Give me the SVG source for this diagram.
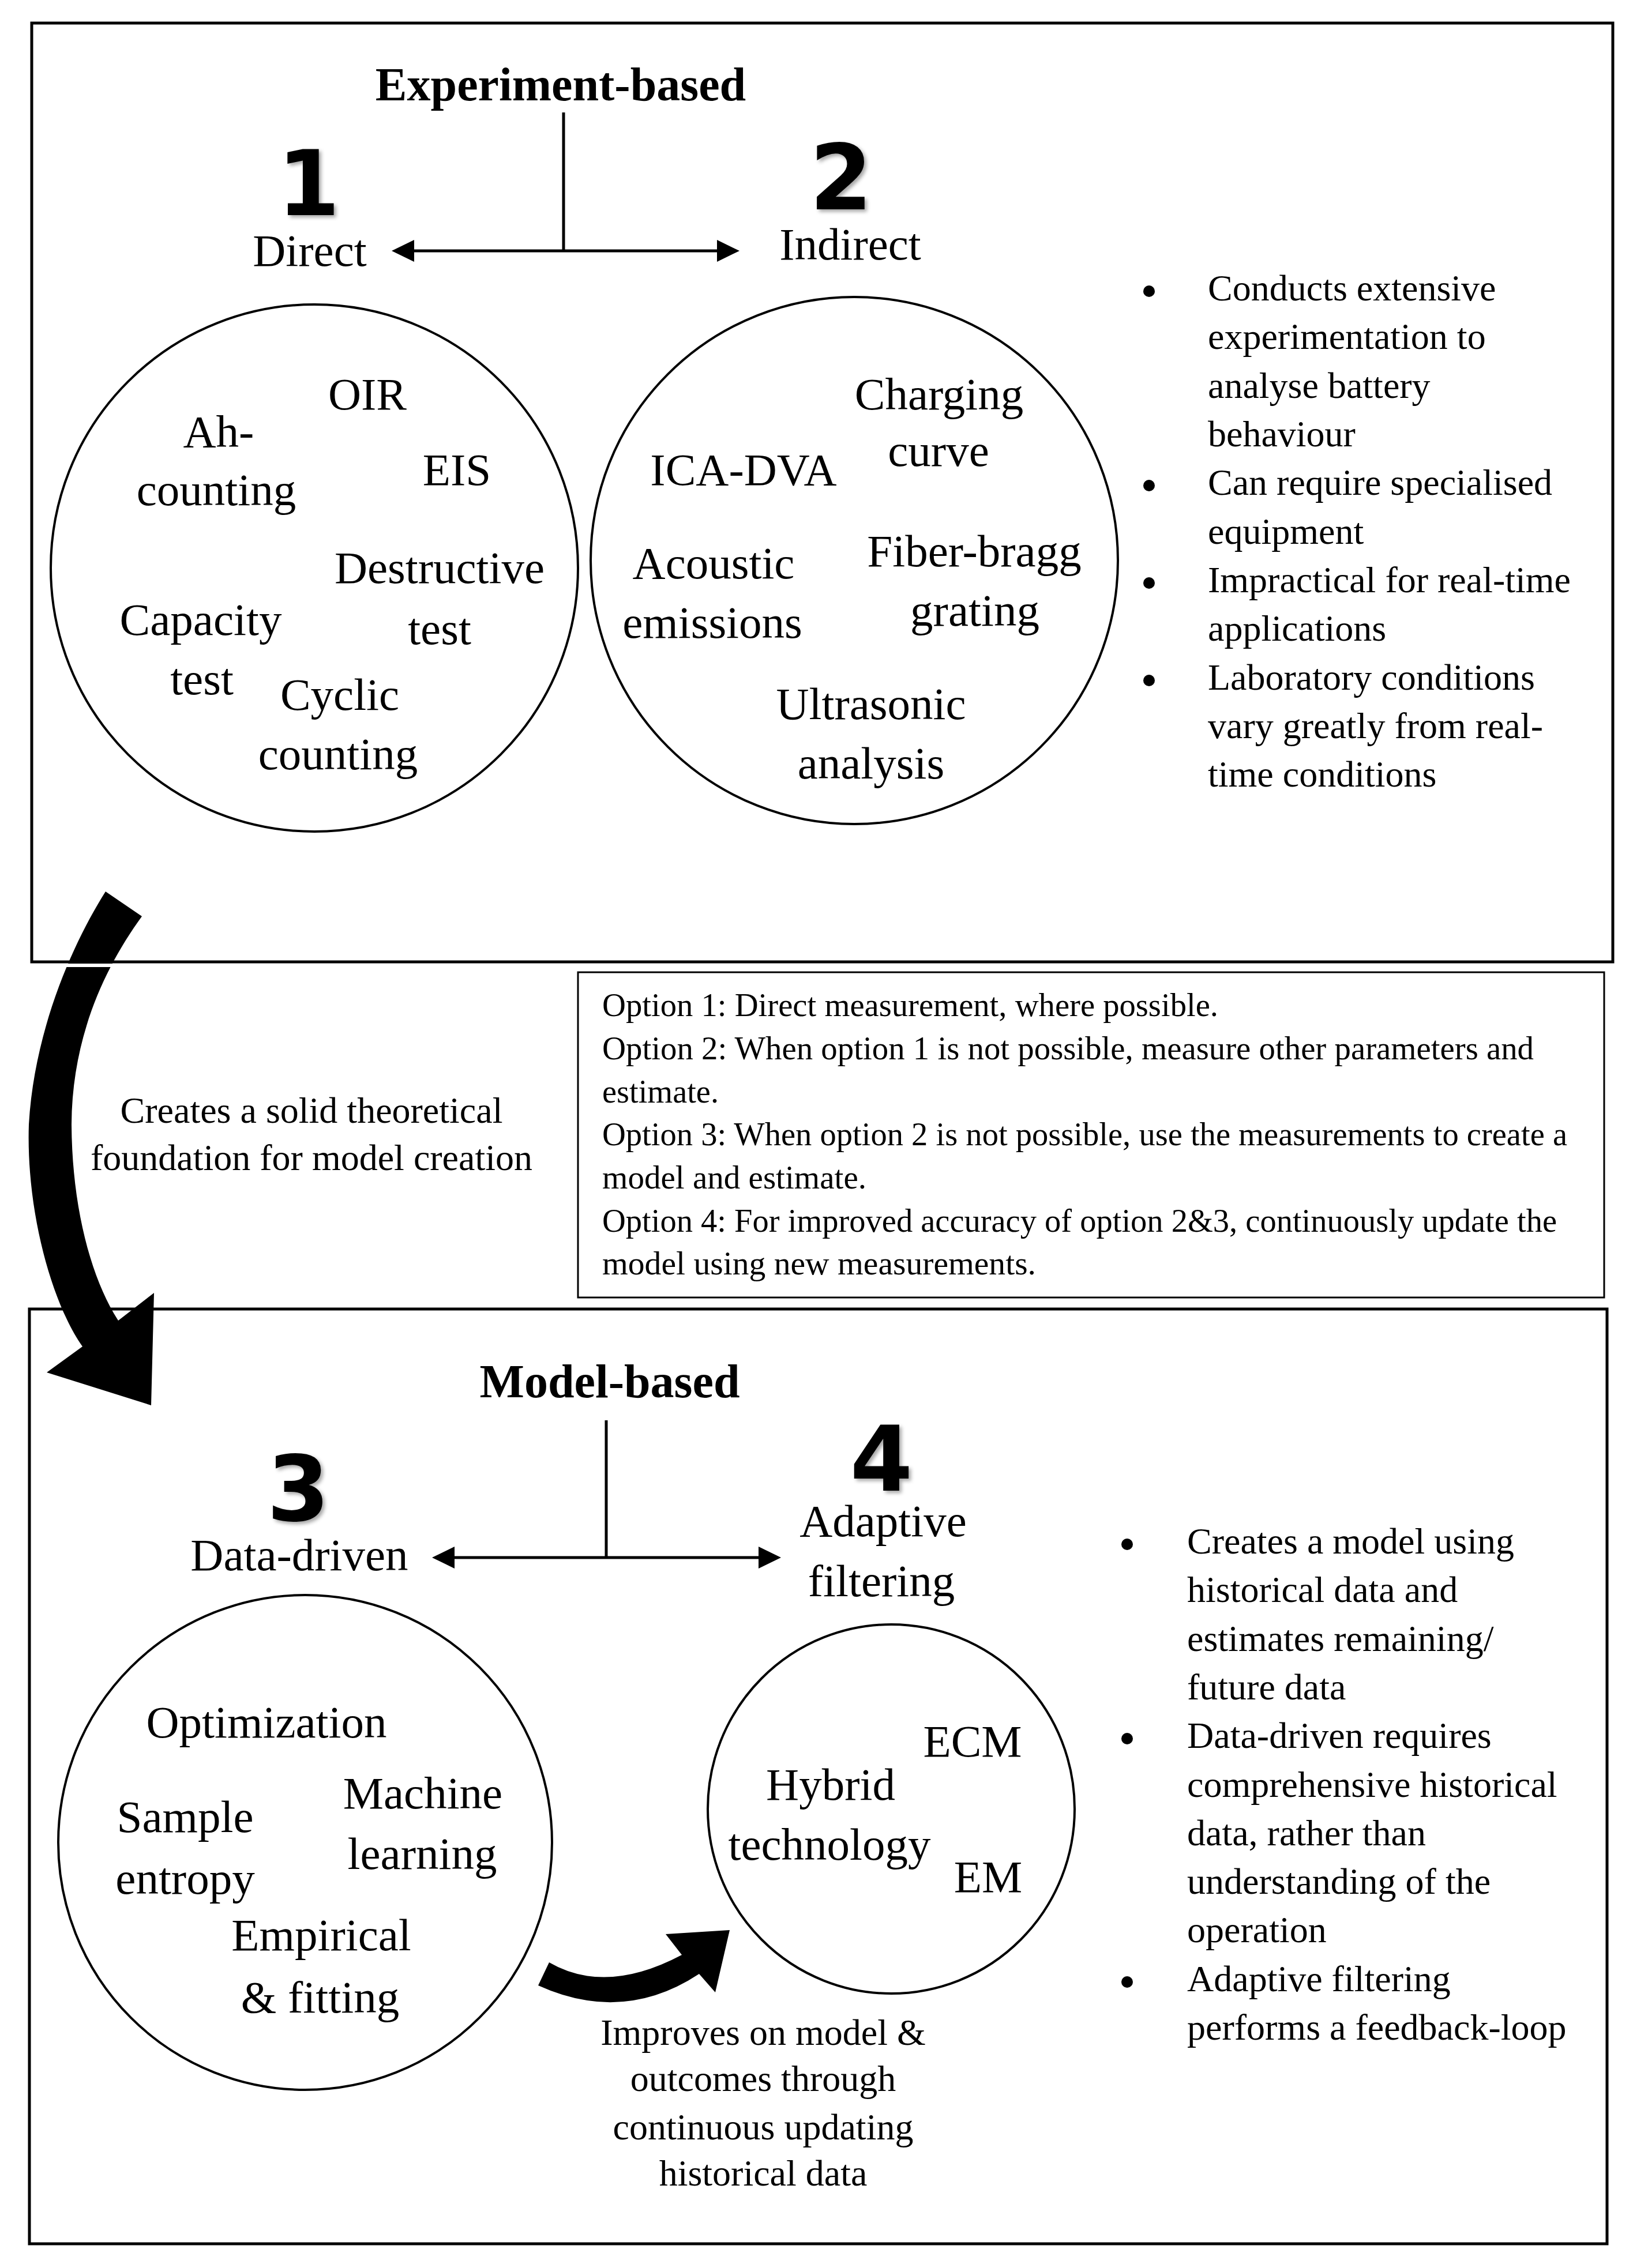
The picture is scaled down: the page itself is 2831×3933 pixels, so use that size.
<svg xmlns="http://www.w3.org/2000/svg" width="2831" height="3933" viewBox="0 0 2831 3933">
<style>
.t{font-family:"Liberation Serif","Times New Roman",serif;fill:#000}
.c{font-size:79px;text-anchor:middle}
.b{font-size:64px}
.o{font-size:57px}
.m{font-size:64px;text-anchor:middle}
.h{font-size:82px;font-weight:bold;text-anchor:middle}
.d{font-family:"DejaVu Sans",sans-serif;font-weight:bold;font-size:156px;text-anchor:middle;fill:#000;filter:url(#sh)}
.box{fill:none;stroke:#000;stroke-width:5}
.obox{fill:none;stroke:#000;stroke-width:3}
.ring{fill:none;stroke:#000;stroke-width:4}
.ln{stroke:#000;stroke-width:5;fill:none}
.dot{fill:#000}
</style>
<defs>
<filter id="sh" x="-20%" y="-20%" width="150%" height="150%">
<feDropShadow dx="4" dy="4" stdDeviation="3" flood-color="#000" flood-opacity="0.35"/>
</filter>
<marker id="ah" markerUnits="userSpaceOnUse" markerWidth="39" markerHeight="38" refX="6" refY="19" orient="auto-start-reverse">
<path d="M0,0 L39,19 L0,38 Z" fill="#000"/>
</marker>
</defs>
<rect width="2831" height="3933" fill="#fff"/>

<g id="box-experiment"><rect class="box" x="55" y="40" width="2741" height="1628"/></g>
<g id="title-experiment"><text class="t h" x="972" y="174">Experiment-based</text></g>

<g id="node-direct">
<text class="d" x="535" y="373">1</text>
<text class="t c" x="537" y="461">Direct</text>
</g>
<g id="node-indirect">
<text class="d" x="1458" y="363">2</text>
<text class="t c" x="1474" y="450">Indirect</text>
</g>

<g id="circle-direct">
<circle class="ring" cx="545" cy="985" r="457"/>
<text class="t c" x="637" y="710">OIR</text>
<text class="t c" x="379" y="775">Ah-</text>
<text class="t c" x="375" y="876">counting</text>
<text class="t c" x="792" y="841">EIS</text>
<text class="t c" x="762" y="1011">Destructive</text>
<text class="t c" x="762" y="1117">test</text>
<text class="t c" x="348" y="1101">Capacity</text>
<text class="t c" x="350" y="1204">test</text>
<text class="t c" x="589" y="1231">Cyclic</text>
<text class="t c" x="586" y="1334">counting</text>
</g>

<g id="circle-indirect">
<circle class="ring" cx="1481" cy="972" r="457"/>
<text class="t c" x="1628" y="710">Charging</text>
<text class="t c" x="1627" y="808">curve</text>
<text class="t c" x="1289" y="841">ICA-DVA</text>
<text class="t c" x="1237" y="1003">Acoustic</text>
<text class="t c" x="1235" y="1106">emissions</text>
<text class="t c" x="1689" y="982">Fiber-bragg</text>
<text class="t c" x="1690" y="1085">grating</text>
<text class="t c" x="1510" y="1247">Ultrasonic</text>
<text class="t c" x="1510" y="1350">analysis</text>
</g>

<g id="bullets-experiment">
<circle class="dot" cx="1992" cy="505" r="10"/>
<circle class="dot" cx="1992" cy="842" r="10"/>
<circle class="dot" cx="1992" cy="1011" r="10"/>
<circle class="dot" cx="1992" cy="1180" r="10"/>
<text class="t b" x="2094" y="521">Conducts extensive</text>
<text class="t b" x="2094" y="605">experimentation to</text>
<text class="t b" x="2094" y="690">analyse battery</text>
<text class="t b" x="2094" y="774">behaviour</text>
<text class="t b" x="2094" y="858">Can require specialised</text>
<text class="t b" x="2094" y="943">equipment</text>
<text class="t b" x="2094" y="1027">Impractical for real-time</text>
<text class="t b" x="2094" y="1111">applications</text>
<text class="t b" x="2094" y="1196">Laboratory conditions</text>
<text class="t b" x="2094" y="1280">vary greatly from real-</text>
<text class="t b" x="2094" y="1364">time conditions</text>
</g>

<g id="options-box">
<rect class="obox" x="1002" y="1686" width="1779" height="564"/>
<text class="t o" x="1044" y="1762" textLength="1068" lengthAdjust="spacingAndGlyphs">Option 1: Direct measurement, where possible.</text>
<text class="t o" x="1044" y="1837" textLength="1615" lengthAdjust="spacingAndGlyphs">Option 2: When option 1 is not possible, measure other parameters and</text>
<text class="t o" x="1044" y="1912" textLength="202" lengthAdjust="spacingAndGlyphs">estimate.</text>
<text class="t o" x="1044" y="1986" textLength="1673" lengthAdjust="spacingAndGlyphs">Option 3: When option 2 is not possible, use the measurements to create a</text>
<text class="t o" x="1044" y="2061" textLength="458" lengthAdjust="spacingAndGlyphs">model and estimate.</text>
<text class="t o" x="1044" y="2136" textLength="1655" lengthAdjust="spacingAndGlyphs">Option 4: For improved accuracy of option 2&amp;3, continuously update the</text>
<text class="t o" x="1044" y="2210" textLength="752" lengthAdjust="spacingAndGlyphs">model using new measurements.</text>
</g>

<g id="label-foundation">
<text class="t m" x="540" y="1947">Creates a solid theoretical</text>
<text class="t m" x="540" y="2029">foundation for model creation</text>
</g>

<g id="box-model"><rect class="box" x="51" y="2270" width="2735" height="1621"/></g>
<g id="title-model"><text class="t h" x="1057" y="2423">Model-based</text></g>

<g id="node-data-driven">
<text class="d" x="517" y="2637">3</text>
<text class="t c" x="519" y="2723">Data-driven</text>
</g>
<g id="node-adaptive">
<text class="d" x="1528" y="2585">4</text>
<text class="t c" x="1531" y="2664">Adaptive</text>
<text class="t c" x="1528" y="2768">filtering</text>
</g>

<g id="circle-data-driven">
<ellipse class="ring" cx="529" cy="3195" rx="428" ry="429"/>
<text class="t c" x="462" y="3013">Optimization</text>
<text class="t c" x="733" y="3136">Machine</text>
<text class="t c" x="321" y="3177">Sample</text>
<text class="t c" x="732" y="3241">learning</text>
<text class="t c" x="321" y="3284">entropy</text>
<text class="t c" x="557" y="3382">Empirical</text>
<text class="t c" x="555" y="3490">&amp; fitting</text>
</g>

<g id="circle-adaptive">
<ellipse class="ring" cx="1545" cy="3137" rx="318" ry="320"/>
<text class="t c" x="1686" y="3046">ECM</text>
<text class="t c" x="1440" y="3121">Hybrid</text>
<text class="t c" x="1438" y="3225">technology</text>
<text class="t c" x="1713" y="3281">EM</text>
</g>

<g id="label-improves">
<text class="t m" x="1323" y="3546">Improves on model &amp;</text>
<text class="t m" x="1323" y="3626">outcomes through</text>
<text class="t m" x="1323" y="3710">continuous updating</text>
<text class="t m" x="1323" y="3790">historical data</text>
</g>

<g id="bullets-model">
<circle class="dot" cx="1954" cy="2678" r="10"/>
<circle class="dot" cx="1954" cy="3015" r="10"/>
<circle class="dot" cx="1954" cy="3437" r="10"/>
<text class="t b" x="2058" y="2694">Creates a model using</text>
<text class="t b" x="2058" y="2778">historical data and</text>
<text class="t b" x="2058" y="2863">estimates remaining/</text>
<text class="t b" x="2058" y="2947">future data</text>
<text class="t b" x="2058" y="3031">Data-driven requires</text>
<text class="t b" x="2058" y="3116">comprehensive historical</text>
<text class="t b" x="2058" y="3200">data, rather than</text>
<text class="t b" x="2058" y="3284">understanding of the</text>
<text class="t b" x="2058" y="3368">operation</text>
<text class="t b" x="2058" y="3453">Adaptive filtering</text>
<text class="t b" x="2058" y="3537">performs a feedback-loop</text>
</g>

<g id="connectors">
<line class="ln" x1="977" y1="195" x2="977" y2="435"/>
<line class="ln" x1="712" y1="435" x2="1249" y2="435" marker-start="url(#ah)" marker-end="url(#ah)"/>
<line class="ln" x1="1051" y1="2463" x2="1051" y2="2701"/>
<line class="ln" x1="782" y1="2701" x2="1321" y2="2701" marker-start="url(#ah)" marker-end="url(#ah)"/>
<path d="M183,1546 C130,1630 60,1780 50,1950 C45,2100 90,2260 143,2335 L81,2380 L262,2437 L267,2242 L205,2290 C160,2220 125,2100 124,1950 C125,1800 180,1680 246,1589 Z" fill="#000"/>
<rect x="90" y="1671" width="130" height="6" fill="#fff"/>
<path d="M952,3403 Q1050,3460 1182,3390 L1154,3354 L1265,3347 L1240,3455 L1212,3423 Q1080,3510 933,3443 Z" fill="#000"/>
</g>
</svg>
